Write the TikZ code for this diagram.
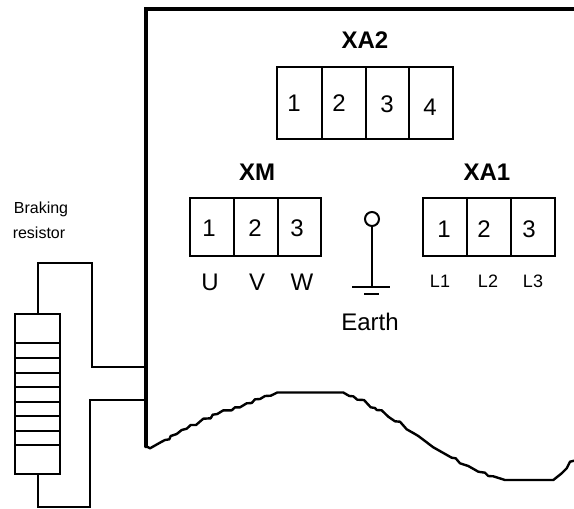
\documentclass[tikz,border=0pt]{standalone}
\usepackage{fontspec}
\setmainfont{Liberation Sans}
\tikzset{
	wire/.style={line width=1.5pt},
	frameline/.style={line width=3.4pt,line cap=round},
	bigtext/.style={font=\fontsize{18}{20}\selectfont,inner sep=0pt},
	headtext/.style={font=\fontsize{18}{20}\selectfont\bfseries,inner sep=0pt},
	linetext/.style={font=\fontsize{13.5}{15}\selectfont,inner sep=0pt},
	smalltext/.style={font=\fontsize{12}{14}\selectfont,inner sep=0pt},
	resbox/.style={draw,line width=1.5pt,minimum width=33.75pt,minimum height=120pt,inner sep=0pt}
}
\begin{document}
\begin{tikzpicture}[x=0.75pt,y=-0.75pt]
	\useasboundingbox (0,0) rectangle (574,508);

	%housing
	\draw[frameline] (574,9) -- (146,9) -- (146,446);
	\draw[line width=1.8pt,line join=round] plot coordinates {(146,446) (150,448.3) (161.7,441.7) (165,440) (169.3,439.3) (170.7,436) (176.7,434) (181.7,430) (186.7,428.7) (190.7,425) (196,425) (203.3,418.7) (210.7,418.3) (212.7,414.7) (217.3,414) (223.3,410.3) (231.7,410.3) (235,407.3) (240,407.3) (246.7,403.3) (251.7,403) (255,399.3) (260,399) (265,396) (270.7,395.7) (277.3,392.5) (343.3,392.5) (349.3,396) (353.3,396.3) (357.3,399.7) (364,400) (370.7,407.3) (375,408) (376.7,410) (381.7,410.3) (388.3,416.7) (395,421.3) (400,421.7) (406.7,429.3) (415,434) (418.3,436) (433.3,447.3) (451.7,457.7) (455.7,458.3) (460,463.3) (468.3,466) (478.3,471.7) (485,472.7) (488.3,476) (493.3,476.3) (505,480) (553.3,480) (561.7,473.3) (566.7,468.3) (570,461.7) (574,460.7)}; %broken edge

	%XA2
	\node[headtext] (xatwo) at (365,40) {XA2};
	\draw[wire] (277,67) rectangle (453,139);
	\draw[wire] (322,67) -- (322,139);
	\draw[wire] (366,67) -- (366,139);
	\draw[wire] (409,67) -- (409,139);
	\node[bigtext] (xatwoa) at (294,103) {1};
	\node[bigtext] (xatwob) at (339,103) {2};
	\node[bigtext] (xatwoc) at (387,104) {3};
	\node[bigtext] (xatwod) at (430,107) {4};

	%XM
	\node[headtext] (xm) at (257,172) {XM};
	\draw[wire] (190,198) rectangle (321,256);
	\draw[wire] (234,198) -- (234,256);
	\draw[wire] (278,198) -- (278,256);
	\node[bigtext] (xma) at (209,228) {1};
	\node[bigtext] (xmb) at (255,228) {2};
	\node[bigtext] (xmc) at (297,228) {3};
	\node[bigtext] (xmu) at (210,282) {U};
	\node[bigtext] (xmv) at (257,282) {V};
	\node[bigtext] (xmw) at (302,282) {W};

	%XA1
	\node[headtext] (xaone) at (487,172) {XA1};
	\draw[wire] (423,198) rectangle (555,256);
	\draw[wire] (467,198) -- (467,256);
	\draw[wire] (511,198) -- (511,256);
	\node[bigtext] (xaonea) at (444,229) {1};
	\node[bigtext] (xaoneb) at (484,229) {2};
	\node[bigtext] (xaonec) at (529,229) {3};
	\node[linetext] (lone) at (440,281) {L1};
	\node[linetext] (ltwo) at (488,281) {L2};
	\node[linetext] (lthree) at (533,281) {L3};

	%earth
	\node[draw,circle,line width=1.5pt,minimum size=10.5pt,inner sep=0pt] (earthring) at (372,219) {};
	\coordinate (earthfoot) at (372,287);
	\draw[wire] (earthring) -- (earthfoot);
	\draw[wire] (352,287) -- (390,287);
	\draw[wire] (364,294) -- (379,294);
	\node[bigtext] (earth) at (370,322) {Earth};

	%resistor
	\node[smalltext] (braking) at (41,209) {Braking};
	\node[smalltext] (resistor) at (39,233) {resistor};
	\node[resbox] (res) at (37.5,394) {};
	\foreach \y in {343,358,373,387,402,416,431,445}
		\draw[wire] (14,\y) -- (61,\y);

	%leads
	\coordinate (topin) at (146,367);
	\coordinate (botin) at (146,400);
	\draw[wire] (res.north) |- (92,263) |- (topin); %top lead
	\draw[wire] (res.south) |- (90,507) |- (botin); %bottom lead
\end{tikzpicture}
\end{document}
